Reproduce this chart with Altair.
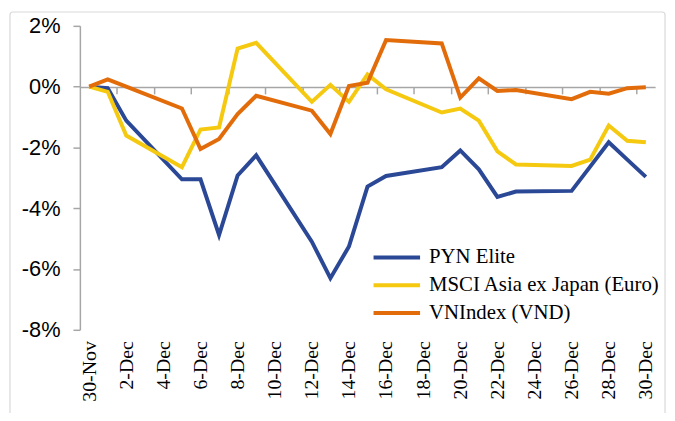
import altair as alt
import pandas as pd

dates = ["2016-11-30", "2016-12-01", "2016-12-02", "2016-12-05", "2016-12-06",
         "2016-12-07", "2016-12-08", "2016-12-09", "2016-12-12", "2016-12-13",
         "2016-12-14", "2016-12-15", "2016-12-16", "2016-12-19", "2016-12-20",
         "2016-12-21", "2016-12-22", "2016-12-23", "2016-12-26", "2016-12-27",
         "2016-12-28", "2016-12-29", "2016-12-30"]

pyn_elite = [0.00, -0.05, -1.12, -3.05, -3.05, -4.88, -2.92, -2.26, -5.10, -6.30,
             -5.26, -3.29, -2.94, -2.65, -2.10, -2.72, -3.63, -3.45, -3.43, -2.63,
             -1.83, -2.40, -2.97]
msci_asia = [0.00, -0.17, -1.61, -2.65, -1.41, -1.34, 1.25, 1.44, -0.50, 0.06,
             -0.50, 0.40, -0.09, -0.85, -0.72, -1.12, -2.13, -2.56, -2.61, -2.40,
             -1.28, -1.78, -1.83]
vnindex = [0.00, 0.24, 0.00, -0.72, -2.05, -1.72, -0.90, -0.30, -0.79, -1.56,
           0.02, 0.13, 1.53, 1.42, -0.36, 0.27, -0.14, -0.11, -0.41, -0.17,
           -0.23, -0.05, -0.02]

series_names = ["PYN Elite", "MSCI Asia ex Japan (Euro)", "VNIndex (VND)"]
series_colors = ["#2B4896", "#F5C90F", "#E36C0A"]
y_ticks = [-8, -6, -4, -2, 0, 2]

rows = []
for name, vals in zip(series_names, [pyn_elite, msci_asia, vnindex]):
    for d, v in zip(dates, vals):
        rows.append({"date": d + "T00:00:00", "value": v, "series": name})
df = pd.DataFrame(rows)

x_scale = alt.Scale(domain=[alt.DateTime(year=2016, month=11, date=29, hours=12),
                            alt.DateTime(year=2016, month=12, date=30, hours=12)])
y_scale = alt.Scale(domain=[-8, 2], nice=False, zero=False)

label_values = [alt.DateTime(year=2016, month=11, date=30)] + \
    [alt.DateTime(year=2016, month=12, date=d) for d in range(2, 31, 2)]
tick_values = [alt.DateTime(year=2016, month=12, date=d, hours=12) for d in range(1, 30, 2)]

label_axis = alt.Axis(values=label_values, format="%-d-%b", labelAngle=270,
                      domain=False, ticks=False, grid=False, title=None,
                      labelFont="Liberation Serif", labelFontSize=20,
                      labelColor="#000000", labelPadding=11, labelOverlap=False,
                      orient="bottom")
tick_axis = alt.Axis(values=tick_values, labels=False, domain=True,
                     domainColor="#A6A6A6", domainWidth=1.5, ticks=True,
                     tickColor="#A6A6A6", tickWidth=1.5, tickSize=7,
                     grid=False, title=None, orient="bottom", offset=-245.3)

lines = alt.Chart(df).mark_line(strokeWidth=4).encode(
    x=alt.X("date:T", scale=x_scale, axis=label_axis),
    y=alt.Y("value:Q", scale=y_scale,
            axis=alt.Axis(values=y_ticks, labelExpr="datum.value + '%'",
                          domainColor="#A6A6A6", domainWidth=1.5,
                          tickColor="#A6A6A6", tickWidth=1.5, tickSize=7,
                          labelFont="Liberation Sans", labelFontSize=22,
                          labelColor="#000000", labelPadding=13,
                          grid=False, title=None)),
    color=alt.Color("series:N",
                    scale=alt.Scale(domain=series_names, range=series_colors),
                    legend=alt.Legend(orient="none", legendX=309.6, legendY=223.5,
                                      title=None, symbolType="M-4,0H4",
                                      symbolSize=138, symbolStrokeWidth=4,
                                      labelFont="Liberation Serif",
                                      labelFontSize=21, labelColor="#000000",
                                      labelLimit=400,
                                      rowPadding=6, labelOffset=22, padding=0)),
)

zero_axis = alt.Chart(df).mark_rule(opacity=0).encode(
    x=alt.X("date:T", scale=x_scale, axis=tick_axis),
)

border = alt.Chart(pd.DataFrame({"a": [0]})).mark_rect(
    fill="transparent", stroke="#D9D9D9", strokeWidth=1.2, cornerRadius=3
).encode(x=alt.value(-70.6), x2=alt.value(591), y=alt.value(-14), y2=alt.value(420))

chart = alt.layer(border, zero_axis, lines).resolve_axis(x="independent").properties(
    width=581, height=307,
    autosize=alt.AutoSizeParams(type="none"),
    padding={"left": 72.6, "top": 16, "right": 12, "bottom": 82},
).configure_view(strokeOpacity=0)

chart.save("out.html", embed_options={"renderer": "svg", "actions": False})
